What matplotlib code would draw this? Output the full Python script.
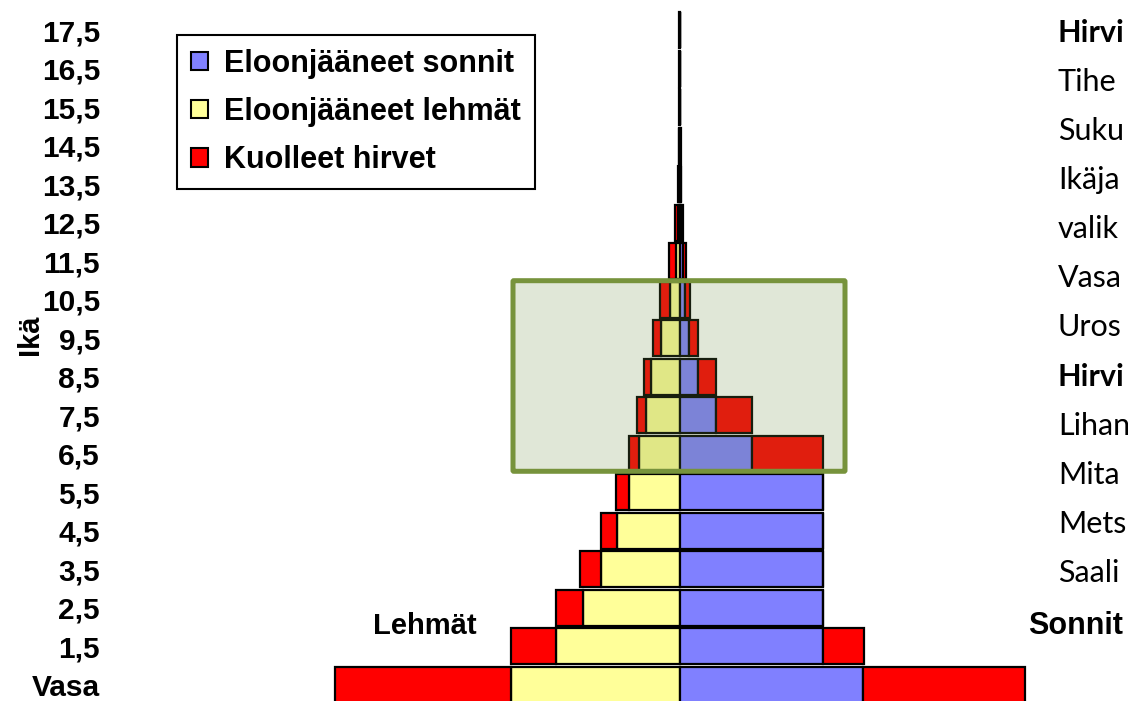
import numpy as np
import matplotlib
matplotlib.use("Agg")
import matplotlib.pyplot as plt
from matplotlib.patches import Patch, FancyBboxPatch

# ikäluokat (Vasa = 0,5 v)
ika = ["Vasa", "1,5", "2,5", "3,5", "4,5", "5,5", "6,5", "7,5", "8,5",
       "9,5", "10,5", "11,5", "12,5", "13,5", "14,5", "15,5", "16,5", "17,5"]

# lehmät (vasen puoli)
lehmat_elossa = [118, 87, 68, 55, 44, 36, 29, 24, 20, 13, 7, 2.8, 1.5, 0.8, 0.5, 0.2, 0.2, 0.2]
lehmat_kuolleet = [123, 31, 19, 15, 11, 9, 7, 6, 5, 6, 7, 4.9, 2, 0.8, 0.5, 0.2, 0.2, 0.2]

# sonnit (oikea puoli)
sonnit_elossa = [128, 100, 100, 100, 100, 100, 50, 25, 12.5, 6.3, 3.5, 2.1, 1, 0.5, 0.3, 0.1, 0.1, 0.1]
sonnit_kuolleet = [113, 29, 0, 0, 0, 0, 50, 25, 12.5, 6.3, 3.5, 2.1, 1, 0.5, 0.3, 0.1, 0.1, 0.1]

# oikean reunan teksti, näkyvä osa
teksti_oikea = ["Hirvi", "Tihe", "Suku", "Ikäja", "valik", "Vasa", "Uros"]
teksti_oikea2 = ["Hirvi", "Lihan", "Mita", "Mets", "Saali"]

SININEN = "#8080FF"
KELTAINEN = "#FFFF99"
PUNAINEN = "#FF0000"

W, H = 1128, 701
fig = plt.figure(figsize=(W / 100, H / 100), dpi=100)
ax = fig.add_axes([130 / W, 0, 1 - 130 / W, 1])

y = np.arange(len(ika))
la = np.array(lehmat_elossa)
lk = np.array(lehmat_kuolleet)
sa = np.array(sonnit_elossa)
sk = np.array(sonnit_kuolleet)

kw = dict(height=0.935, edgecolor="black", linewidth=1.6, zorder=2)
ax.barh(y, -la, color=KELTAINEN, **kw)
ax.barh(y, -lk, left=-la, color=PUNAINEN, **kw)
ax.barh(y, sa, color=SININEN, **kw)
ax.barh(y, sk, left=sa, color=PUNAINEN, **kw)

# px -> data: 1 yksikkö = 1.43 px, keskiviiva x=680
sc = 1.43
ax.set_xlim((130 - 680) / sc, (W - 680) / sc)
ax.set_ylim(-0.416, 17.79)

# korostuslaatikko ikäluokille 6,5 - 10,5
x0 = (513 - 680) / sc
x1 = (845 - 680) / sc
laatikko = FancyBboxPatch((x0, 5.55), x1 - x0, 10.5 - 5.55,
                          boxstyle="round,pad=0,rounding_size=0.6",
                          facecolor=(110 / 255, 144 / 255, 67 / 255, 0.21),
                          edgecolor="#77933C", linewidth=3.6, zorder=3,
                          mutation_aspect=0.04)
ax.add_patch(laatikko)

for s in ax.spines.values():
    s.set_visible(False)
ax.set_xticks([])
ax.set_yticks(y)
ax.set_yticklabels(ika, fontsize=21.5, fontweight="bold", family="Liberation Sans")
ax.tick_params(axis="y", length=0, pad=21.6)

fig.text(30 / W, 1 - 335 / H, "Ikä", rotation=90, fontsize=21, fontweight="bold",
         family="Liberation Sans", ha="center", va="center")
fig.text(425 / W, 1 - 626 / H, "Lehmät", fontsize=21, fontweight="bold",
         family="Liberation Sans", ha="center", va="center")
fig.text(1028 / W, 1 - 626 / H, "Sonnit", fontsize=22, fontweight="bold",
         family="Liberation Sans", ha="left", va="center")

for k, t in enumerate(teksti_oikea):
    fig.text(1058 / W, 1 - (33 + 49 * k) / H, t, fontsize=22, family="Lato",
             fontweight="bold" if k == 0 else "normal", ha="left", va="center")
for k, t in enumerate(teksti_oikea2):
    fig.text(1058 / W, 1 - (377 + 49 * k) / H, t, fontsize=22, family="Lato",
             fontweight="bold" if k == 0 else "normal", ha="left", va="center")

kahvat = [Patch(facecolor=SININEN, edgecolor="black", linewidth=1.5),
          Patch(facecolor=KELTAINEN, edgecolor="black", linewidth=1.5),
          Patch(facecolor=PUNAINEN, edgecolor="black", linewidth=1.5)]
leg = fig.legend(kahvat, ["Eloonjääneet sonnit", "Eloonjääneet lehmät", "Kuolleet hirvet"],
                 loc="upper left", bbox_to_anchor=(177 / W, 1 - 35 / H),
                 borderaxespad=0, fancybox=False, framealpha=1,
                 handlelength=0.55, handleheight=0.55, handletextpad=0.55,
                 labelspacing=0.6, borderpad=0.45,
                 prop=dict(family="Liberation Sans", weight="bold", size=22))
leg.get_frame().set_edgecolor("black")
leg.get_frame().set_linewidth(1.5)

fig.savefig("out.png", dpi=100)
